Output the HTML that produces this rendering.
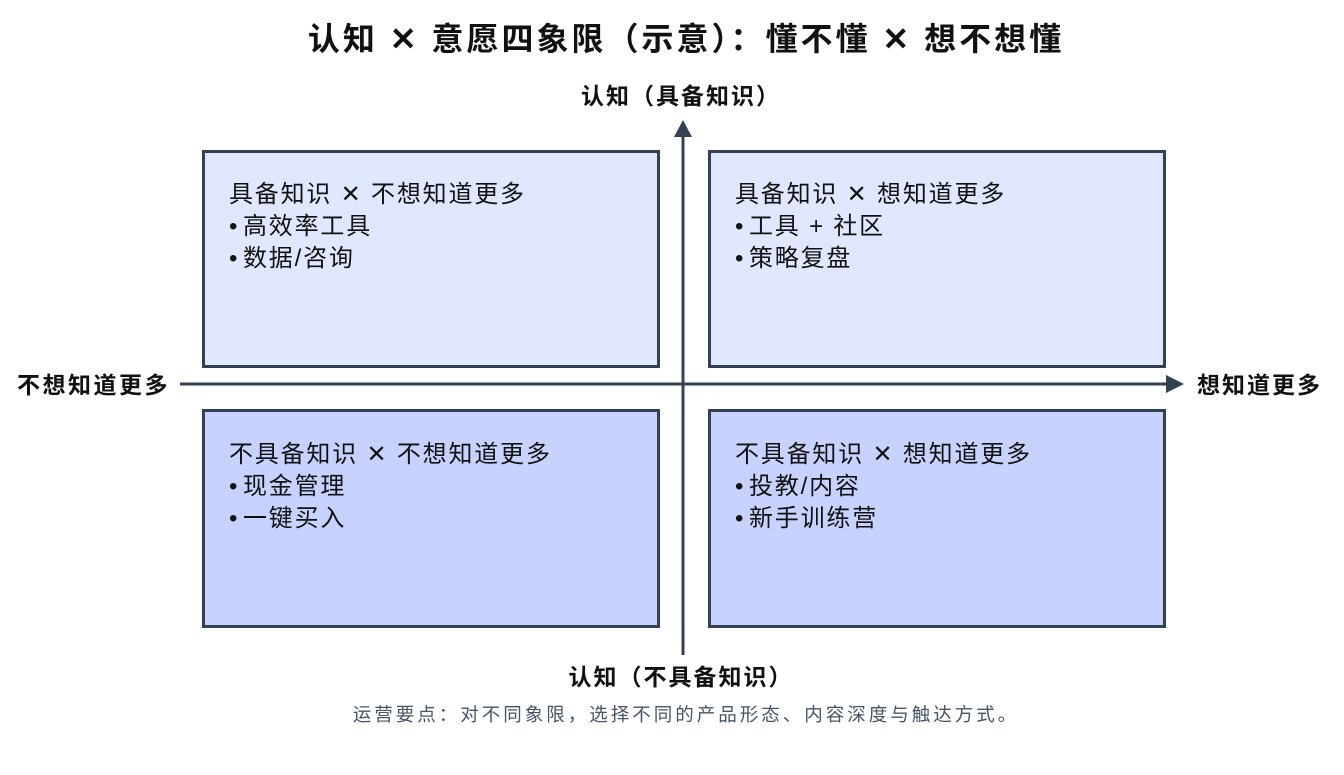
<!DOCTYPE html>
<html><head><meta charset="utf-8"><style>
html,body{margin:0;padding:0;background:#fff;}
svg{display:block;font-family:"Liberation Sans","Noto Sans CJK SC",sans-serif;}
</style></head><body>
<svg width="1344" height="775" viewBox="0 0 1344 775" xmlns="http://www.w3.org/2000/svg">
<rect width="1344" height="775" fill="#fff"/>
<text x="686" y="50" text-anchor="middle" font-size="32" font-weight="bold" letter-spacing="3" fill="#111">认知 ✕ 意愿四象限（示意）：懂不懂 ✕ 想不想懂</text>
<text x="681" y="104" text-anchor="middle" font-size="23" font-weight="bold" letter-spacing="2" fill="#111">认知（具备知识）</text>
<text x="681" y="685" text-anchor="middle" font-size="23" font-weight="bold" letter-spacing="2" fill="#111">认知（不具备知识）</text>
<text x="170" y="393" text-anchor="end" font-size="23" font-weight="bold" letter-spacing="2.5" fill="#111">不想知道更多</text>
<text x="1197" y="393" font-size="23" font-weight="bold" letter-spacing="2" fill="#111">想知道更多</text>
<text x="686" y="721" text-anchor="middle" font-size="18.5" letter-spacing="3" fill="#475569">运营要点：对不同象限，选择不同的产品形态、内容深度与触达方式。</text>

<g stroke="#334155" stroke-width="3">
<rect x="203.5" y="151.5" width="455" height="215" fill="#e0e7ff"/>
<rect x="709.5" y="151.5" width="455" height="215" fill="#e0e7ff"/>
<rect x="203.5" y="410.5" width="455" height="216" fill="#c7d2fe"/>
<rect x="709.5" y="410.5" width="455" height="216" fill="#c7d2fe"/>
<line x1="180" y1="384" x2="1168" y2="384"/>
<line x1="683" y1="655" x2="683" y2="136"/>
</g>
<polygon points="683,120 674,137 692,137" fill="#334155"/>
<polygon points="1184,384 1166,375 1166,393" fill="#334155"/>

<g font-size="24" letter-spacing="1.8" fill="#111">
<text x="229" y="202">具备知识 ✕ 不想知道更多</text>
<text x="229" y="234">•<tspan x="243">高效率工具</tspan></text>
<text x="229" y="266">•<tspan x="243">数据/咨询</tspan></text>
<text x="735" y="202">具备知识 ✕ 想知道更多</text>
<text x="735" y="234">•<tspan x="749">工具 + 社区</tspan></text>
<text x="735" y="266">•<tspan x="749">策略复盘</tspan></text>
<text x="229" y="462">不具备知识 ✕ 不想知道更多</text>
<text x="229" y="494">•<tspan x="243">现金管理</tspan></text>
<text x="229" y="526">•<tspan x="243">一键买入</tspan></text>
<text x="735" y="462">不具备知识 ✕ 想知道更多</text>
<text x="735" y="494">•<tspan x="749">投教/内容</tspan></text>
<text x="735" y="526">•<tspan x="749">新手训练营</tspan></text>
</g>
</svg>
</body></html>
